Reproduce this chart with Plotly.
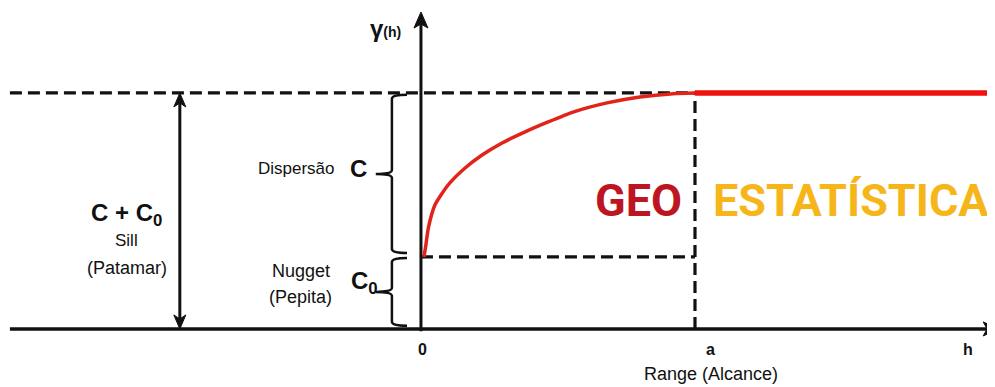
import plotly.graph_objects as go

# ---------------- data (variogram model, normalised units) ----------------
nugget = 0.305          # C0 (relative to sill)
sill = 1.0              # C + C0
range_a = 1.0           # a
h_curve = [0.011, 0.018, 0.027, 0.051, 0.099, 0.161, 0.223, 0.296, 0.380,
           0.464, 0.555, 0.679, 0.799, 0.920, 1.0]
g_curve = [0.305, 0.356, 0.428, 0.525, 0.610, 0.682, 0.737, 0.788, 0.835,
           0.877, 0.919, 0.958, 0.983, 0.997, 1.0]
tick_labels = ["0", "a", "h"]

# ---------------- view (page has an 8px body margin) ----------------
X_RANGE = [-1.507, 2.124]
Y_RANGE = [-0.280, 1.360]
PX_X = 995 / (X_RANGE[1] - X_RANGE[0])   # pixels per x unit
PX_Y = 387 / (Y_RANGE[1] - Y_RANGE[0])   # pixels per y unit
X_LEFT = -1.5
X_RIGHT = 2.11
Y_TOP = 1.343
X_DOUBLE = -0.88

BLACK = "#111111"
RED = "#e2231a"
RED_FLAT = "#f01010"
GEO_RED = "#bd1622"
GOLD = "#f6b619"
FONT = "Liberation Sans, Arial, sans-serif"
BIG = "Roboto, Liberation Sans, sans-serif"

fig = go.Figure()

def line(xs, ys, color=BLACK, width=3.2, dash=None, **kw):
    fig.add_trace(go.Scatter(x=xs, y=ys, mode="lines",
                             line=dict(color=color, width=width, dash=dash, **kw),
                             hoverinfo="skip"))

# axes and double arrow shafts
line([X_LEFT, X_RIGHT - 8 / PX_X], [0, 0], width=3.5)
line([0, 0], [-0.01, Y_TOP - 8 / PX_Y], width=3)
line([X_DOUBLE, X_DOUBLE], [0 + 8 / PX_Y, sill - 8 / PX_Y], width=3)

# dashed guide lines
dash = "12px,6px"
line([X_LEFT, range_a], [sill, sill], dash=dash)
line([0, range_a], [nugget, nugget], dash=dash)
line([range_a, range_a], [0, sill], dash=dash)

# model curve + plateau
line(h_curve, g_curve, color=RED, width=3.5, shape="spline", smoothing=0.6)
line([range_a, X_RIGHT], [sill, sill], color=RED_FLAT, width=5.5)

# arrowheads (pixel sizes converted to data units)
def head(x, y, direction, length=16, half=7, notch=4):
    if direction in ("up", "down"):
        s = 1 if direction == "up" else -1
        L, hw, n = length / PX_Y, half / PX_X, notch / PX_Y
        return (f"M {x},{y} L {x-hw},{y-s*L} L {x},{y-s*(L-n)} L {x+hw},{y-s*L} Z")
    L, hw, n = length / PX_X, half / PX_Y, notch / PX_X
    return f"M {x},{y} L {x-L},{y-hw} L {x-L+n},{y} L {x-L},{y+hw} Z"

shapes = []
for p in [head(X_RIGHT, 0, "right"), head(0, Y_TOP, "up"),
          head(X_DOUBLE, sill, "up", 14, 6), head(X_DOUBLE, 0, "down", 14, 6)]:
    shapes.append(dict(type="path", path=p, xref="x", yref="y",
                       fillcolor=BLACK, line=dict(color=BLACK, width=1)))

# braces
def brace(y0, y1, xs=-0.106, xe=-0.051, xt=-0.165, ry=0.017):
    ym = (y0 + y1) / 2
    return (f"M {xe},{y1} Q {xs},{y1} {xs},{y1-ry} L {xs},{ym+ry} "
            f"Q {xs},{ym} {xt},{ym} Q {xs},{ym} {xs},{ym-ry} "
            f"L {xs},{y0+ry} Q {xs},{y0} {xe},{y0}")

shapes += [
    dict(type="path", path=brace(nugget + 0.017, sill - 0.008), xref="x", yref="y",
         line=dict(color=BLACK, width=2.5)),
    dict(type="path", path=brace(0.013, nugget - 0.004), xref="x", yref="y",
         line=dict(color=BLACK, width=2.5)),
]

anns = []
def txt(x, y, s, size, color=BLACK, family=FONT):
    anns.append(dict(x=x, y=y, xref="x", yref="y", text=s, showarrow=False,
                     font=dict(size=size, color=color, family=family),
                     xanchor="center", yanchor="middle"))

txt(-0.128, 1.275, "<b>γ</b><b><span style='font-size:14px'>(h)</span></b>", 24)
txt(-0.453, 0.680, "Dispersão", 17)
txt(-0.228, 0.680, "<b>C</b>", 24)
txt(-1.073, 0.483, "<b>C + C<sub>0</sub></b>", 24)
txt(-1.073, 0.373, "Sill", 17)
txt(-1.073, 0.258, "(Patamar)", 18)
txt(-0.438, 0.246, "Nugget", 18)
txt(-0.438, 0.136, "(Pepita)", 18)
txt(-0.205, 0.196, "<b>C<sub>0</sub></b>", 24)
txt(0.007, -0.089, f"<b>{tick_labels[0]}</b>", 16)
txt(1.058, -0.089, f"<b>{tick_labels[1]}</b>", 16)
txt(1.996, -0.087, f"<b>{tick_labels[2]}</b>", 16)
txt(1.058, -0.191, "Range (Alcance)", 18)
txt(0.795, 0.545, "<b>GEO</b>", 45, color=GEO_RED, family=BIG)
txt(1.570, 0.545, "<b>ESTATÍSTICA</b>", 45, color=GOLD, family=BIG)

fig.update_layout(
    width=995, height=387,
    margin=dict(l=0, r=0, t=0, b=0),
    paper_bgcolor="white", plot_bgcolor="white",
    showlegend=False,
    xaxis=dict(range=X_RANGE, visible=False, fixedrange=True),
    yaxis=dict(range=Y_RANGE, visible=False, fixedrange=True),
    annotations=anns, shapes=shapes,
)

fig.write_html("out.html")
